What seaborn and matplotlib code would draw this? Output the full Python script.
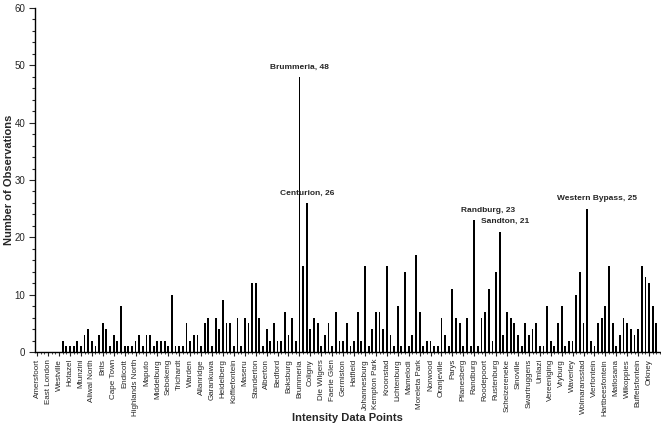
import matplotlib
matplotlib.use("Agg")
import matplotlib.pyplot as plt
from matplotlib.ticker import MultipleLocator
import seaborn as sns
import pandas as pd
import numpy as np

# one tick label for every third data point
tick_names = [
    "Amersfoort", "East London", "Westville", "Hotazel", "Mtunzini", "Aliwal North",
    "Brits", "Cape Town", "Endicott", "Highlands North", "Maputo", "Middelburg",
    "Sebokeng", "Trichardt", "Warden", "Allanridge", "Garankuwa", "Heidelberg",
    "Koffiefontein", "Maseru", "Standerton", "Alberton", "Bedford", "Boksburg",
    "Brummeria", "Coligny", "Die Wilgers", "Faerie Glen", "Germiston", "Hatfield",
    "Johannesburg", "Kempton Park", "Kroonstad", "Lichtenburg", "Mamelodi",
    "Moreleta Park", "Norwood", "Oranjeville", "Parys", "Pilanesberg", "Randburg",
    "Roodepoort", "Rustenburg", "Scheizereneke", "Sinoville", "Swartruggens",
    "Umlazi", "Vereeniging", "Vryburg", "Waverley", "Wolmaransstad", "Vierfontein",
    "Hartbeesfontein", "Matlosana", "Wilkoppies", "Buffelsfontein", "Orkney",
]

observations = [
    0, 0, 0, 0, 0, 0, 0, 2, 1, 1,
    1, 2, 1, 3, 4, 2, 1, 3, 5, 4,
    1, 3, 2, 8, 1, 1, 1, 2, 3, 1,
    3, 3, 1, 2, 2, 2, 1, 10, 1, 1,
    1, 5, 2, 3, 3, 1, 5, 6, 1, 6,
    4, 9, 5, 5, 1, 6, 1, 6, 5, 12,
    12, 6, 1, 4, 2, 5, 2, 2, 7, 3,
    6, 2, 48, 15, 26, 4, 6, 5, 1, 3,
    5, 1, 7, 2, 2, 5, 1, 2, 7, 2,
    15, 1, 4, 7, 7, 4, 15, 3, 1, 8,
    1, 14, 1, 3, 17, 7, 1, 2, 2, 1,
    1, 6, 3, 1, 11, 6, 5, 1, 6, 1,
    23, 1, 6, 7, 11, 2, 14, 21, 3, 7,
    6, 5, 3, 1, 5, 3, 4, 5, 1, 1,
    8, 2, 1, 5, 8, 1, 2, 2, 10, 14,
    5, 25, 2, 1, 5, 6, 8, 15, 5, 1,
    3, 6, 5, 4, 3, 4, 15, 13, 12, 8,
    5,
]

# labelled peaks: name, data point index
peak_names = ["Brummeria", "Centurion", "Randburg", "Sandton", "Western Bypass"]
peak_index = [72, 74, 120, 127, 151]
peak_shift = [0, 0, 10, 4, 7]  # horizontal text offset, points

sns.set_style("ticks")
plt.rcParams["font.family"] = ["Liberation Sans", "DejaVu Sans"]

df = pd.DataFrame({"point": np.arange(len(observations)), "obs": observations})

fig = plt.figure(figsize=(6.61, 4.26), dpi=100)
ax = fig.add_axes([35 / 661, 74 / 426, 625 / 661, 344 / 426])

sns.barplot(data=df, x="point", y="obs", color="#000000", saturation=1,
            width=0.5, linewidth=0, ax=ax)

for name, idx, dx in zip(peak_names, peak_index, peak_shift):
    val = observations[idx]
    ax.annotate(f"{name}, {val}", xy=(idx, val), xytext=(dx, 6),
                textcoords="offset points", ha="center", va="baseline",
                fontsize=6, fontweight="bold")

ax.set_xlim(-0.6, len(observations))
ax.set_ylim(0, 60)
ax.set_xticks(np.arange(0, 3 * len(tick_names), 3))
ax.set_xticklabels(tick_names, rotation=90, fontsize=5.8)
ax.xaxis.set_minor_locator(MultipleLocator(1))
ax.yaxis.set_major_locator(MultipleLocator(10))
ax.yaxis.set_minor_locator(MultipleLocator(2))
ax.tick_params(axis="y", which="major", length=4, width=0.8, labelsize=7, pad=3)
ax.tick_params(axis="y", which="minor", length=2, width=0.8)
ax.tick_params(axis="x", which="major", length=3, width=0.8, pad=2)
ax.tick_params(axis="x", which="minor", length=1.5, width=0.6)

ax.set_xlabel("Intensity Data Points", fontsize=8, fontweight="bold")
ax.xaxis.label.set_va("center")
ax.xaxis.set_label_coords(0.5, -66 / 344)
ax.set_ylabel("Number of Observations", fontsize=8, fontweight="bold")
ax.yaxis.label.set_va("center")
ax.yaxis.set_label_coords(-26 / 625, 0.5)

sns.despine(ax=ax)
for side in ["left", "bottom"]:
    ax.spines[side].set_linewidth(1.0)
    ax.spines[side].set_color("black")

fig.savefig("out.png", dpi=100)
